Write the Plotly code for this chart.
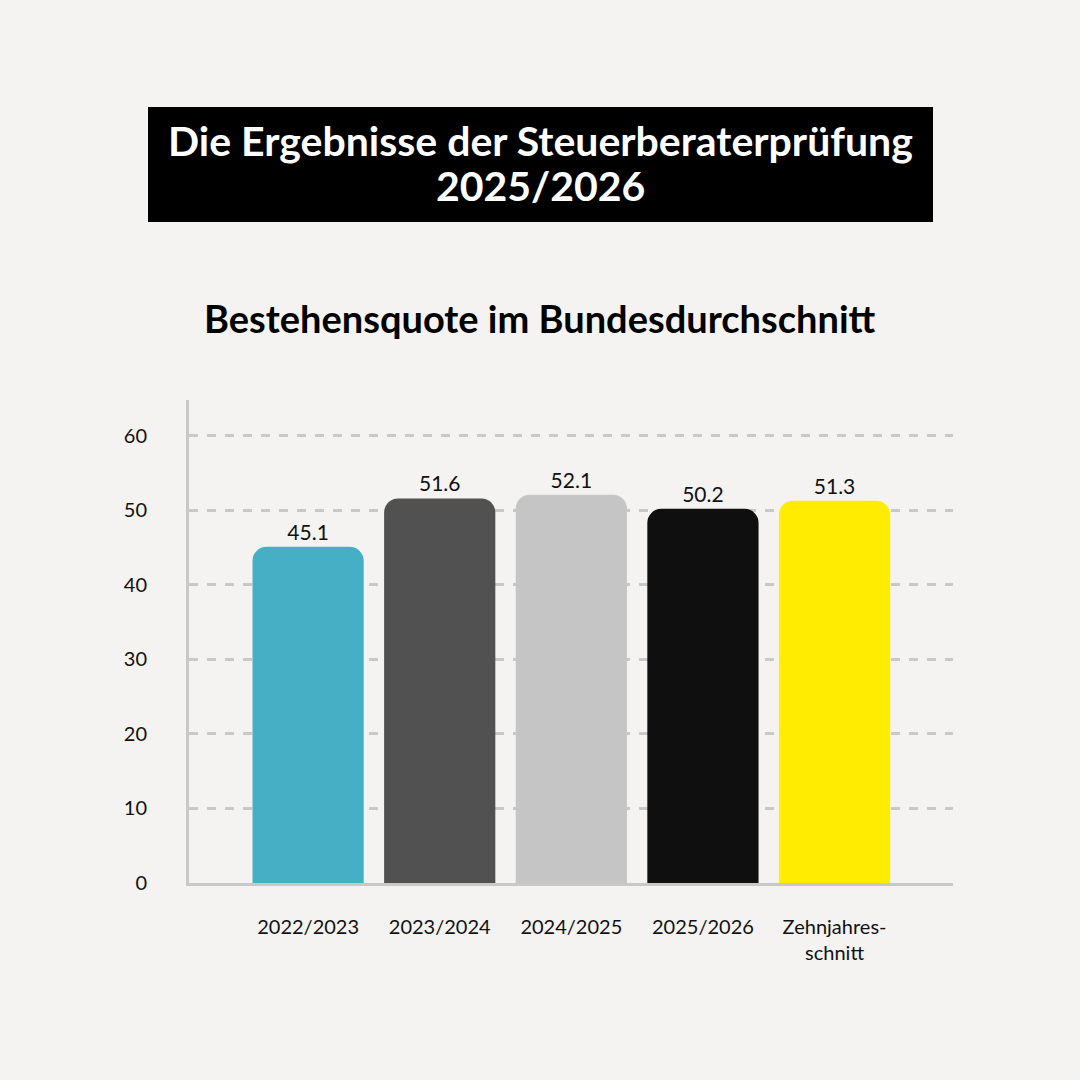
import plotly.graph_objects as go

# Daten
jahre = ["2022/2023", "2023/2024", "2024/2025", "2025/2026", "Zehnjahres-<br>schnitt"]
quote = [45.1, 51.6, 52.1, 50.2, 51.3]
farben = ["#47afc5", "#515151", "#c5c5c5", "#0f0f0f", "#ffec00"]
y_ticks = [0, 10, 20, 30, 40, 50, 60]

FONT = "Lato"
BG = "#f4f3f1"
GRAU = "#c8c8c8"

# Plotbereich in Pixeln
L, R, T, B = 189, 953, 400, 883
W = H = 1080


def px_x(p):
    return (p - L) / (R - L)


def px_y(p):
    return (B - p) / (B - T)


fig = go.Figure()

fig.add_trace(go.Bar(
    x=list(range(len(jahre))),
    y=quote,
    marker=dict(color=farben, line=dict(width=0), cornerradius=14),
    text=[f"{v:.1f}" for v in quote],
    textposition="outside",
    textfont=dict(family=FONT, size=21, color="#111111"),
    cliponaxis=False,
    hoverinfo="skip",
))

fig.update_layout(
    width=W, height=H,
    paper_bgcolor=BG, plot_bgcolor=BG,
    margin=dict(l=L, r=W - R, t=T, b=H - B),
    showlegend=False,
    bargap=0.155,
    font=dict(family=FONT, color="#111111"),
    xaxis=dict(
        range=[-0.905, 4.9],
        tickmode="array",
        tickvals=list(range(len(jahre))),
        ticktext=jahre,
        tickfont=dict(size=20),
        showgrid=False, zeroline=False,
        showline=True, linecolor=GRAU, linewidth=3,
        ticks="", ticklabelstandoff=24,
    ),
    yaxis=dict(
        range=[0, 64.8],
        tickvals=y_ticks,
        tickfont=dict(size=20),
        showgrid=True, gridcolor=GRAU, gridwidth=2.5, griddash="dash",
        zeroline=False,
        showline=True, linecolor=GRAU, linewidth=3,
        ticks="", ticklabelstandoff=35,
    ),
)

# Titelkasten
fig.add_shape(
    type="rect", xref="paper", yref="paper",
    x0=px_x(148), x1=px_x(933), y0=px_y(222), y1=px_y(107),
    fillcolor="#000000", line=dict(color="#000000", width=0),
    layer="above",
)
for txt, yy in [("Die Ergebnisse der Steuerberaterprüfung", 140), ("2025/2026", 186)]:
    fig.add_annotation(
        xref="paper", yref="paper",
        x=px_x(540), y=px_y(yy),
        text=f"<b>{txt}</b>",
        showarrow=False, xanchor="center", yanchor="middle",
        font=dict(family=FONT, size=41, color="#ffffff"),
    )
fig.add_annotation(
    xref="paper", yref="paper",
    x=px_x(540), y=px_y(318),
    text="<b>Bestehensquote im Bundesdurchschnitt</b>",
    showarrow=False, xanchor="center", yanchor="middle",
    font=dict(family=FONT, size=38, color="#000000"),
)

fig.write_html("out.html", config={"displayModeBar": False},
               post_script="document.body.style.margin='0';")
